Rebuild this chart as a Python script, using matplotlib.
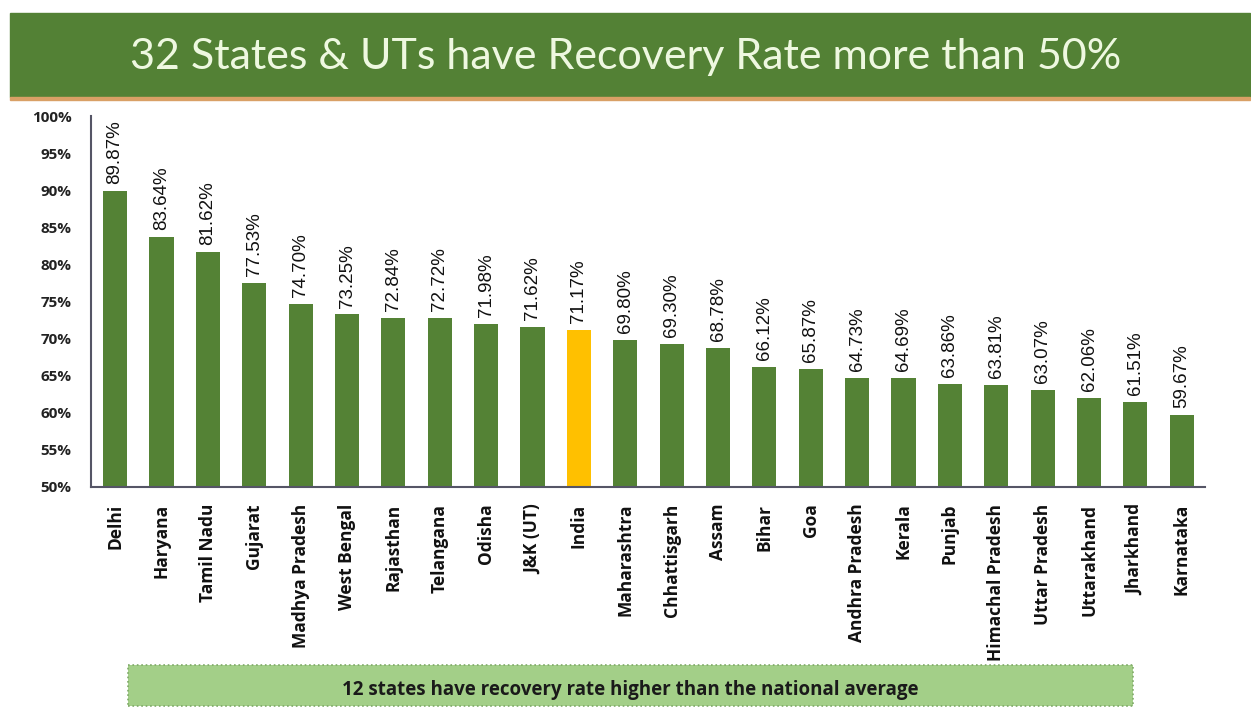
import matplotlib.pyplot as plt
from matplotlib.patches import Rectangle

# data
states = ["Delhi", "Haryana", "Tamil Nadu", "Gujarat", "Madhya Pradesh", "West Bengal",
          "Rajasthan", "Telangana", "Odisha", "J&K (UT)", "India", "Maharashtra",
          "Chhattisgarh", "Assam", "Bihar", "Goa", "Andhra Pradesh", "Kerala", "Punjab",
          "Himachal Pradesh", "Uttar Pradesh", "Uttarakhand", "Jharkhand", "Karnataka"]
recovery = [89.87, 83.64, 81.62, 77.53, 74.70, 73.25, 72.84, 72.72, 71.98, 71.62, 71.17,
            69.80, 69.30, 68.78, 66.12, 65.87, 64.73, 64.69, 63.86, 63.81, 63.07, 62.06,
            61.51, 59.67]
yticks = [50, 55, 60, 65, 70, 75, 80, 85, 90, 95, 100]

GREEN = "#548235"
GOLD = "#FFC000"

fig = plt.figure(figsize=(12.51, 7.07), dpi=100)
W, H = 1251, 707

# title bar
fig.patches.append(Rectangle((10 / W, 1 - 97 / H), 1240 / W, 84 / H,
                             transform=fig.transFigure, color="#538135", zorder=0))
fig.patches.append(Rectangle((10 / W, 1 - 100 / H), 1240 / W, 3 / H,
                             transform=fig.transFigure, color="#d9a066", zorder=0))
fig.text(0.5, 1 - 57 / H, "32 States & UTs have Recovery Rate more than 50%",
         ha="center", va="center", color="#eef8e0", fontsize=31, family="Lato")

ax = fig.add_axes([91 / W, 1 - 487 / H, (1205 - 91) / W, (487 - 116) / H])
colors = [GOLD if s == "India" else GREEN for s in states]
x = list(range(len(states)))
ax.bar(x, recovery, width=0.52, color=colors)

for xi, v in zip(x, recovery):
    ax.annotate(f"{v:.2f}%", (xi, v), xytext=(0, 5), textcoords="offset points",
                rotation=90, ha="center", va="bottom", fontsize=13.5,
                family="Liberation Sans", color="#111111")

ax.set_ylim(50, 100)
ax.set_xlim(-0.52, len(states) - 0.5)
ax.set_yticks(yticks)
ax.set_yticklabels([f"{t}%" for t in yticks], fontsize=11, fontweight="bold",
                   family="Open Sans", color="#222222")
ax.set_xticks(x)
ax.set_xticklabels(states, rotation=90, fontsize=12.5, fontweight="bold",
                   family="Open Sans", color="#111111")
ax.tick_params(length=0, pad=12)
ax.tick_params(axis="y", pad=14)
for side in ["top", "right"]:
    ax.spines[side].set_visible(False)
for side in ["left", "bottom"]:
    ax.spines[side].set_color("#555566")
    ax.spines[side].set_linewidth(1.5)

# note box at bottom
fig.patches.append(Rectangle((128 / W, 1 - 706 / H), (1133 - 128) / W, 41 / H,
                             transform=fig.transFigure, facecolor="#a3cf88",
                             edgecolor="#7fa968", linestyle=":", linewidth=1.2, zorder=0))
fig.text(0.5 * (128 + 1133) / W, 1 - 690 / H,
         "12 states have recovery rate higher than the national average",
         ha="center", va="center", fontsize=13.5, fontweight="bold",
         family="Open Sans", color="#1a1a1a")

fig.savefig("out.png", dpi=100, facecolor="white")
